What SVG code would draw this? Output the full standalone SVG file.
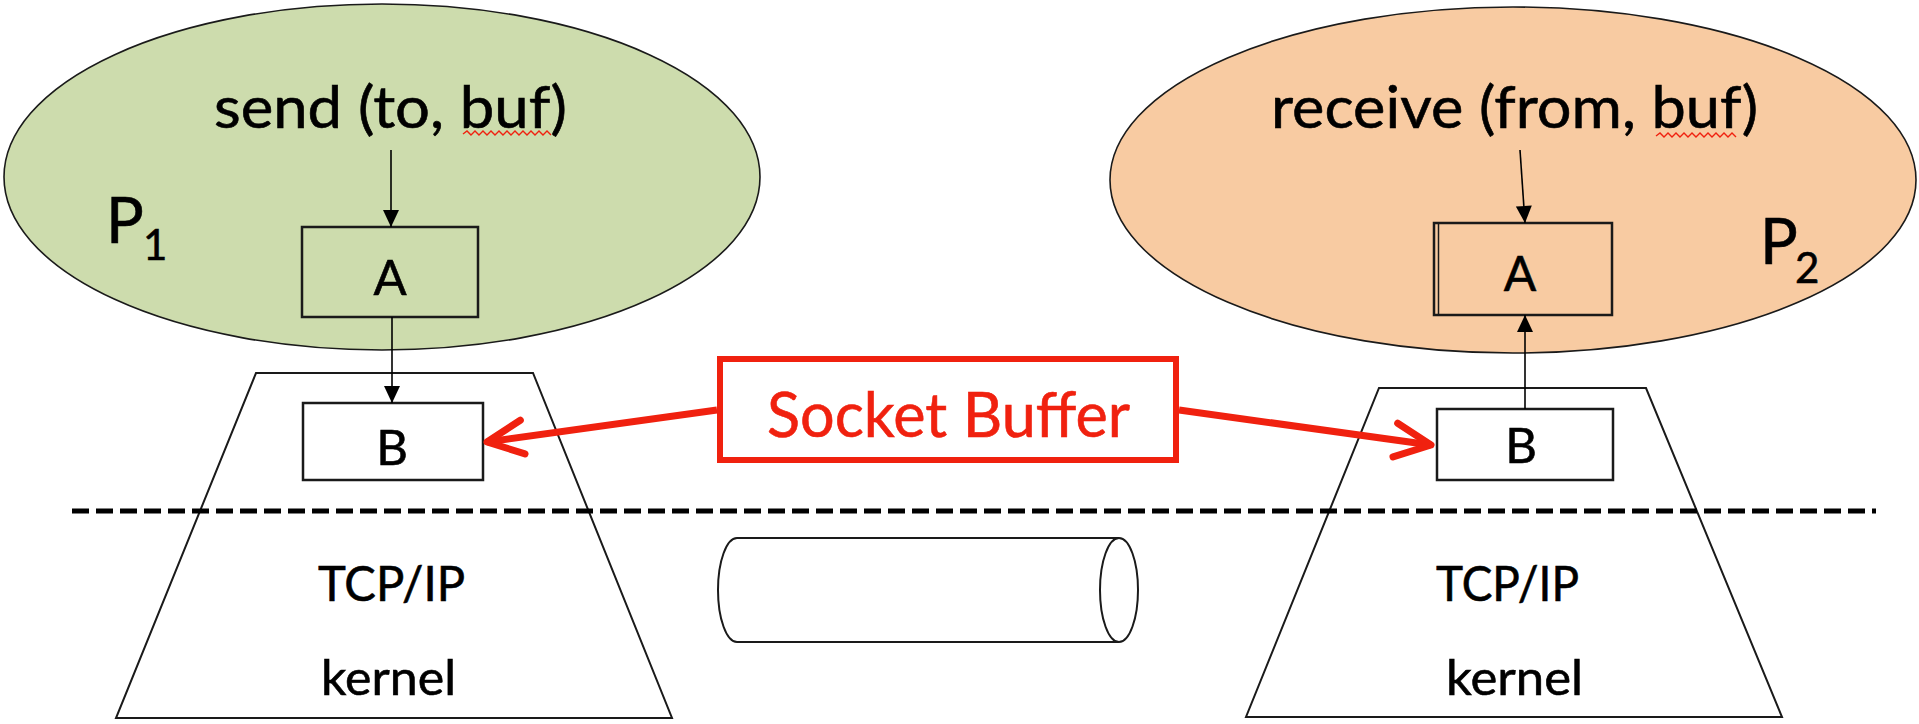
<svg xmlns="http://www.w3.org/2000/svg" width="1919" height="724" viewBox="0 0 1919 724">
  <style>
    .proc { stroke: #1a1a1a; stroke-width: 1.6; }
    .box { fill: none; stroke: #1a1a1a; stroke-width: 2.5; }
    .wbox { fill: #ffffff; stroke: #1a1a1a; stroke-width: 2.5; }
    .trap { fill: #ffffff; stroke: #1a1a1a; stroke-width: 2; }
    .pipe { fill: none; stroke: #1a1a1a; stroke-width: 2; }
    .lbl { font-family: "Lato", "Liberation Sans", sans-serif; fill: #000000; stroke: #000000; stroke-width: 0.6; }
    .flow { stroke: #000000; stroke-width: 1.6; fill: none; marker-end: url(#tri); }
    .hint { stroke: #f0210f; stroke-width: 7; fill: none; marker-end: url(#chev); }
    .squig { stroke: #f0210f; stroke-width: 1.4; fill: none; }
  </style>
  <defs>
    <marker id="tri" markerUnits="userSpaceOnUse" markerWidth="20" markerHeight="20" refX="0" refY="0" viewBox="-18 -10 20 20" orient="auto" overflow="visible">
      <path d="M0,0 L-17,-8 L-17,8 Z" fill="#000000"/>
    </marker>
    <marker id="chev" markerUnits="userSpaceOnUse" markerWidth="50" markerHeight="50" refX="0" refY="0" viewBox="-45 -25 50 50" orient="auto" overflow="visible">
      <path d="M-36,-17 L0,0 L-36,17" fill="none" stroke="#f0210f" stroke-width="7" stroke-linecap="round" stroke-linejoin="round"/>
    </marker>
  </defs>
  <rect x="0" y="0" width="1919" height="724" fill="#ffffff"/>

  <!-- sender process -->
  <g id="p1">
    <ellipse class="proc" cx="382" cy="177" rx="378" ry="173" fill="#cddcad"/>
    <text class="lbl" x="214" y="128" font-size="59" textLength="353" lengthAdjust="spacingAndGlyphs">send (to, buf)</text>
    <path class="squig" d="M463,134 l4,-3 l4,4 l4,-4 l4,4 l4,-4 l4,4 l4,-4 l4,4 l4,-4 l4,4 l4,-4 l4,4 l4,-4 l4,4 l4,-4 l4,4 l4,-4 l4,4 l4,-4 l4,4 l4,-4 l4,4"/>
    <text class="lbl" x="106" y="243" font-size="63">P</text>
    <text class="lbl" x="143" y="260" font-size="42">1</text>
  </g>
  <g id="p1-a">
    <rect class="box" x="302" y="227" width="176" height="90"/>
    <text class="lbl" x="390" y="295" font-size="49" text-anchor="middle">A</text>
  </g>

  <!-- receiver process -->
  <g id="p2">
    <ellipse class="proc" cx="1513" cy="180" rx="403" ry="173" fill="#f8cba2"/>
    <text class="lbl" x="1271" y="128" font-size="59" textLength="487" lengthAdjust="spacingAndGlyphs">receive (from, buf)</text>
    <path class="squig" d="M1656,136 l4,-3 l4,4 l4,-4 l4,4 l4,-4 l4,4 l4,-4 l4,4 l4,-4 l4,4 l4,-4 l4,4 l4,-4 l4,4 l4,-4 l4,4 l4,-4 l4,4 l4,-4 l4,4"/>
    <text class="lbl" x="1760" y="264" font-size="63">P</text>
    <text class="lbl" x="1795" y="283" font-size="42">2</text>
  </g>
  <g id="p2-a">
    <rect class="box" x="1434" y="223" width="178" height="92"/>
    <line x1="1438.5" y1="223" x2="1438.5" y2="315" stroke="#1a1a1a" stroke-width="1.5"/>
    <text class="lbl" x="1520" y="291" font-size="48" text-anchor="middle">A</text>
  </g>

  <!-- kernel stacks -->
  <g id="kernel-left">
    <polygon class="trap" points="256,373 533,373 672,718 116,718"/>
    <text class="lbl" x="318" y="601" font-size="48" textLength="147" lengthAdjust="spacingAndGlyphs">TCP/IP</text>
    <text class="lbl" x="321" y="695" font-size="49" textLength="135" lengthAdjust="spacingAndGlyphs">kernel</text>
  </g>
  <g id="kernel-right">
    <polygon class="trap" points="1379,388 1646,388 1782,717 1246,717"/>
    <text class="lbl" x="1436" y="601" font-size="48" textLength="143" lengthAdjust="spacingAndGlyphs">TCP/IP</text>
    <text class="lbl" x="1446" y="695" font-size="49" textLength="137" lengthAdjust="spacingAndGlyphs">kernel</text>
  </g>
  <g id="b-left">
    <rect class="wbox" x="303" y="403" width="180" height="77"/>
    <text class="lbl" x="392" y="465" font-size="49" text-anchor="middle">B</text>
  </g>
  <g id="b-right">
    <rect class="wbox" x="1437" y="409" width="176" height="71"/>
    <text class="lbl" x="1521" y="463" font-size="49" text-anchor="middle">B</text>
  </g>

  <!-- user / kernel boundary -->
  <g id="boundary">
    <line x1="72" y1="511" x2="1876" y2="511" stroke="#000000" stroke-width="5" stroke-dasharray="17 7"/>
  </g>

  <!-- network pipe -->
  <g id="pipe">
    <path class="pipe" d="M1119,538 L737,538 A19,52 0 0 0 737,642 L1119,642"/>
    <ellipse class="pipe" cx="1119" cy="590" rx="19" ry="52" fill="#ffffff"/>
  </g>

  <!-- data flow -->
  <g id="connectors">
    <line class="flow" x1="391" y1="150" x2="391" y2="227"/>
    <line class="flow" x1="392" y1="317" x2="392" y2="403"/>
    <line class="flow" x1="1520" y1="150" x2="1525" y2="223"/>
    <line class="flow" x1="1525" y1="409" x2="1525" y2="315"/>
    <line class="hint" x1="717" y1="410" x2="487" y2="442"/>
    <line class="hint" x1="1179" y1="410" x2="1431" y2="445"/>
  </g>

  <!-- callout -->
  <g id="socket-buffer">
    <rect x="720" y="359" width="456" height="101" fill="#ffffff" stroke="#f0210f" stroke-width="6"/>
    <text x="767" y="437" font-family="Lato, 'Liberation Sans', sans-serif" font-size="62" fill="#f0210f" stroke="#f0210f" stroke-width="0.6" textLength="363" lengthAdjust="spacingAndGlyphs">Socket Buffer</text>
  </g>
</svg>
